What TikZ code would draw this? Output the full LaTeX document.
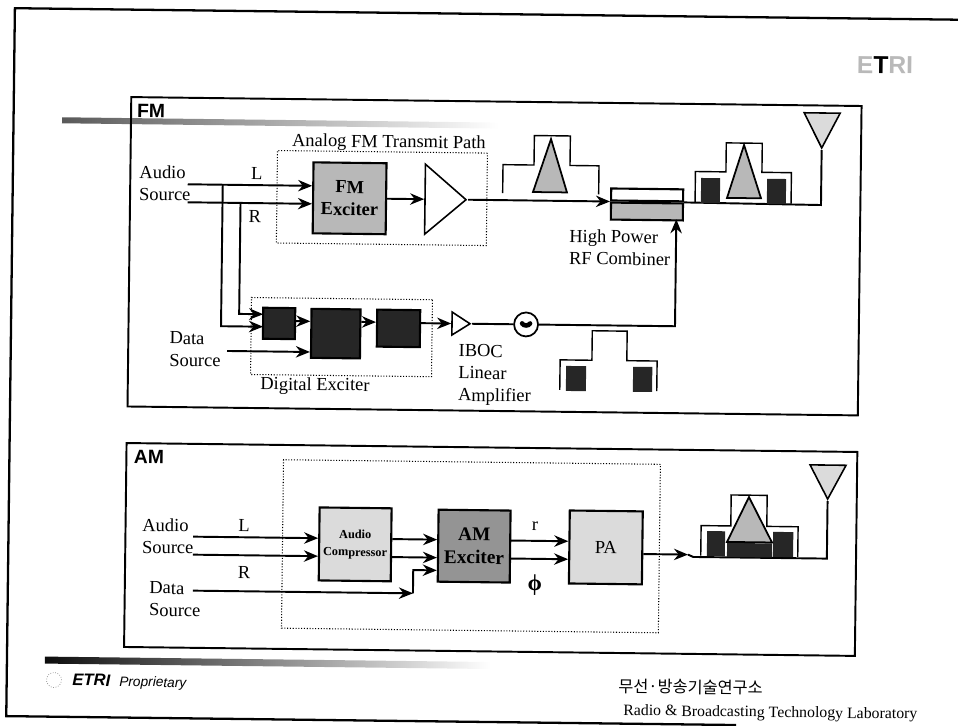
\documentclass[tikz,border=0pt]{standalone}
\usepackage{fontspec}
\setmainfont{Liberation Serif}
\setsansfont{Liberation Sans}
\newfontfamily\krfont{Noto Sans CJK KR}
\usetikzlibrary{positioning, arrows.meta, shapes.geometric}
\definecolor{lightfill}{gray}{0.86}
\definecolor{midfill}{gray}{0.72}
\definecolor{darkfill}{gray}{0.58}
\definecolor{noisefill}{gray}{0.15}

\tikzset{
    wire/.style={line width=1.1pt},
    feed/.style={wire, -{Stealth[length=8pt,width=6.5pt]}},
    panel/.style={draw, line width=1.1pt, inner sep=0pt, anchor=north west},
    dotbox/.style={draw, densely dotted, line width=0.6pt, inner sep=0pt, anchor=north west},
    block/.style={draw, line width=1.2pt, inner sep=0pt, align=center},
    lbl/.style={inner sep=0pt, align=left, anchor=west},
    head/.style={inner sep=0pt, font=\fontsize{11}{13}\selectfont\sffamily\bfseries},
    gain/.style={draw, line width=0.9pt, fill=white, shape=isosceles triangle,
        isosceles triangle stretches, inner sep=0pt, anchor=apex},
    mask/.style={line width=0.8pt},
}

\begin{document}
\begin{tikzpicture}[
    x=0.02cm, y=-0.02cm,
    >=Stealth,
    font=\fontsize{10.5}{12.6}\selectfont,
]

\useasboundingbox (0,0) rectangle (958,725);

\begin{scope}[rotate=-0.7, transform shape]

% --- Page frame and bars ---
\draw[line width=1.3pt] (958,8) -- (15,8) -- (15,716) -- (745,716);
\shade[left color=black!65, right color=white] (63.5,116.5) rectangle (500,122.5);
\shade[left color=black!95, right color=white] (53,656) rectangle (498,663);

% --- Logo ---
\node[inner sep=0pt, text=gray!55, font=\fontsize{14}{16}\selectfont\sffamily\bfseries] (logo)
    at (885.8,54.2) {E\textcolor{black}{T}RI};

% --- FM panel ---
\node[panel, minimum width=14.61cm, minimum height=6.19cm] (fmpanel) at (131.5,94.5) {};
\node[head] (fmtitle) at (152.4,109.2) {FM};

\node[inner sep=0pt] (analogtitle) at (390.7,138.3) {Analog FM Transmit Path};
\node[dotbox, minimum width=4.2cm, minimum height=1.85cm] (analogpath) at (278.8,146.6) {};
\node[dotbox, minimum width=3.62cm, minimum height=1.54cm] (digpath) at (254.6,293.9) {};
\node[inner sep=0pt] (digtitle) at (319.7,382.2) {Digital Exciter};

\node[lbl] (fmaudio) at (141.3,181.3) {Audio\\Source};
\node[lbl] (fmdata) at (173.4,347) {Data\\Source};
\node[inner sep=0pt] (fml) at (259,170) {L};
\node[inner sep=0pt] (fmr) at (257.6,213) {R};
\node[lbl] (ibocnote) at (462.6,369) {IBOC\\Linear\\Amplifier};
\node[lbl] (combnote) at (572,240) {High Power\\RF Combiner};

\node[block, fill=midfill, font=\fontsize{10.5}{12.6}\selectfont\bfseries,
      minimum width=1.46cm, minimum height=1.42cm] (fmexciter) at (352,194) {FM\\Exciter};
\node[gain, minimum width=1.4cm, minimum height=0.82cm] (fmamp) at (470.5,194) {};
\node[gain, minimum width=0.46cm, minimum height=0.36cm] (ibocamp) at (476,318) {};
\node[draw, circle, line width=1pt, minimum size=0.48cm, inner sep=0pt] (mixer) at (530,318) {};
\draw[line width=2.6pt, line cap=round] (526,317) to[bend right=60] (534,317);

\node[block, fill=noisefill, minimum width=0.64cm, minimum height=0.62cm] (digA) at (283,320) {};
\node[block, fill=noisefill, minimum width=0.98cm, minimum height=0.98cm] (digB) at (339.8,329.5) {};
\node[block, fill=noisefill, minimum width=0.86cm, minimum height=0.74cm] (digC) at (402.5,323.5) {};

\node[draw, line width=1.2pt, fill=white, inner sep=0pt, minimum width=1.44cm, minimum height=0.24cm] (combtop) at (649.5,187) {};
\node[draw, line width=1.2pt, fill=midfill, inner sep=0pt, minimum width=1.44cm, minimum height=0.34cm,
      below=0pt of combtop] (combbot) {};

\node[gain, shape border rotate=270, fill=lightfill, minimum width=0.72cm, minimum height=0.7cm] (fmant) at (823.5,140) {};

\coordinate (fmsrcL) at (190,182);
\coordinate (fmsrcR) at (190,200);
\coordinate (tapL) at (225,182);
\coordinate (tapR) at (243,200);
\coordinate (digL) at (267,323.5);
\coordinate (digR) at (267,311);
\coordinate (fmdatasrc) at (231.3,348.2);
\coordinate (combin) at (679,211);
\coordinate (fmcorner) at (823.5,195);

\draw[feed] (fmsrcL) -- (fmsrcL -| fmexciter.west);
\draw[feed] (fmsrcR) -- (fmsrcR -| fmexciter.west);
\draw[feed] (tapL) |- (digL);
\draw[feed] (tapR) |- (digR);
\draw[feed] (fmexciter.east) -- (fmamp.lower side);
\draw[feed] (fmamp.apex) -- (combtop.south west);
\draw[feed] (fmdatasrc) -- (fmdatasrc -| digB.west);
\draw[feed] (digA.east |- 0,317.5) -- (digB.west |- 0,317.5);
\draw[feed] (digB.east |- 0,317.5) -- (digC.west |- 0,317.5);
\draw[feed] (digC.east |- 0,318) -- (ibocamp.lower side);
\draw[wire] (ibocamp.apex) -- (mixer.west);
\draw[feed] (mixer.east) -| (combin);
\draw[wire] (combtop.south east) -- (fmcorner) -- (fmant.apex);

% --- FM spectra ---
\draw[mask] (505,187) -- (505,158.5) -- (536,158.5) -- (536,129) -- (572,129) -- (572,158.5) -- (601,158.5) -- (601,187);
\draw[mask] (697.5,194) -- (697.5,163) -- (728,163) -- (728,134) -- (764,134) -- (764,163) -- (793.5,163) -- (793.5,194);
\draw[mask] (564.5,383) -- (564.5,353) -- (596.3,353) -- (596.3,323.5) -- (631.2,323.5) -- (631.2,353) -- (661.5,353) -- (661.5,383);
\foreach \xa/\xb/\ya/\yb in {703.3/722.3/169.4/194.4, 769.3/788.3/169.4/194.4, 570.6/590.6/359/384, 637.6/656.8/359/384} {
    \fill[noisefill] (\xa,\ya) rectangle (\xb,\yb);
}
\foreach \xl/\xt/\xr/\yt/\yb in {535.3/552.7/569.3/132.3/185.5, 729.4/745.8/763.4/135.9/189} {
    \draw[line width=1pt, fill=midfill] (\xl,\yb) -- (\xt,\yt) -- (\xr,\yb) -- cycle;
}

% --- AM panel ---
\node[panel, minimum width=14.62cm, minimum height=4.08cm] (ampanel) at (131,440.5) {};
\node[head] (amtitle) at (154.6,455.2) {AM};
\node[dotbox, minimum width=7.54cm, minimum height=3.37cm] (ampath) at (288.6,455.7) {};

\node[lbl] (amaudio) at (148.5,534) {Audio\\Source};
\node[lbl] (amdata) at (156.3,597) {Data\\Source};
\node[inner sep=0pt] (aml) at (250.4,523) {L};
\node[inner sep=0pt] (amr) at (251,570) {R};
\node[inner sep=0pt] (amrho) at (541.4,519.5) {r};
\node[inner sep=0pt, font=\fontsize{13}{15}\selectfont\bfseries] (amphi) at (542,578.5) {ϕ};

\node[block, fill=lightfill, font=\fontsize{7}{10}\selectfont\bfseries,
      minimum width=1.44cm, minimum height=1.46cm] (compressor) at (361.8,540) {Audio\\Compressor};
\node[block, fill=darkfill, font=\fontsize{11}{13}\selectfont\bfseries,
      minimum width=1.44cm, minimum height=1.44cm] (amexciter) at (480.8,540.3) {AM\\Exciter};
\node[block, fill=lightfill, minimum width=1.46cm, minimum height=1.46cm] (pa) at (612.5,540) {PA};

\node[gain, shape border rotate=270, fill=lightfill, minimum width=0.72cm, minimum height=0.68cm] (amant) at (833.7,491) {};

\coordinate (amsrcL) at (199.6,534.3);
\coordinate (amsrcR) at (199.6,552.3);
\coordinate (amdatasrc) at (200.2,588.3);
\coordinate (amjoin) at (420.2,588.3);
\coordinate (amoutA) at (694.8,546.2);
\coordinate (amoutB) at (700,548.5);
\coordinate (amcorner) at (833.7,548.5);

\draw[feed] (amsrcL) -- (amsrcL -| compressor.west);
\draw[feed] (amsrcR) -- (amsrcR -| compressor.west);
\draw[feed] (amdatasrc) -- (amjoin);
\draw[feed] (amjoin) |- (amexciter.west |- 0,565);
\draw[feed] (compressor.east |- amsrcL) -- (amexciter.west |- amsrcL);
\draw[feed] (compressor.east |- amsrcR) -- (amexciter.west |- amsrcR);
\draw[feed] (amexciter.east |- amsrcL) -- (pa.west |- amsrcL);
\draw[feed] (amexciter.east |- amsrcR) -- (pa.west |- amsrcR);
\draw[feed] (pa.east |- amoutA) -- (amoutA);
\draw[wire] (amoutA) -- (amoutB) -- (amcorner) -- (amant.apex);

% --- AM spectrum ---
\draw[mask] (707.5,547) -- (707.5,517) -- (737.2,517) -- (737.2,486) -- (773.2,486) -- (773.2,517) -- (804.5,517) -- (804.5,547);
\foreach \xa/\xb/\ya/\yb in {713.6/731.6/522.4/547.4, 779.7/799.8/522.4/547.4, 733.7/778.8/534/548} {
    \fill[noisefill] (\xa,\ya) rectangle (\xb,\yb);
}
\draw[line width=1pt, fill=midfill] (733.6,533) -- (755,487.9) -- (778.6,533) -- cycle;

% --- Footer ---
\node[draw=gray, densely dotted, circle, minimum size=0.3cm, inner sep=0pt] (globe) at (62.3,679.3) {};
\node[lbl, font=\fontsize{9.5}{11}\selectfont\sffamily\bfseries\itshape] (etri) at (80.3,679) {ETRI};
\node[lbl, font=\fontsize{7.8}{9}\selectfont\sffamily\itshape] (proprietary) at (127.3,681.5) {Proprietary};
\node[lbl, font=\fontsize{9.3}{11}\selectfont\krfont] (krname) at (626.4,678.5) {무선·방송기술연구소};
\node[lbl, font=\fontsize{9}{11}\selectfont] (labname) at (631.7,704) {Radio \& Broadcasting Technology Laboratory};

\end{scope}
\end{tikzpicture}
\end{document}
